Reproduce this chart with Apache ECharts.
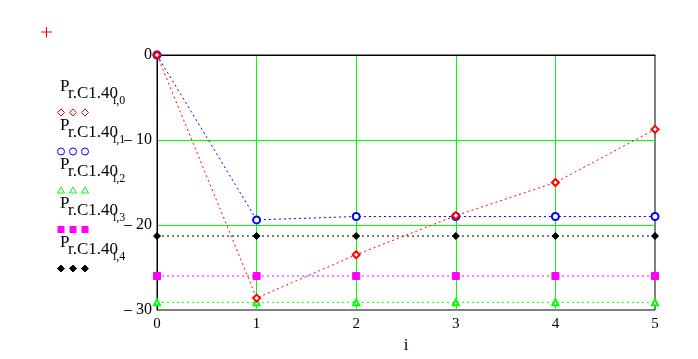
<!DOCTYPE html>
<html><head><meta charset="utf-8">
<script src="https://cdn.jsdelivr.net/npm/echarts@6/dist/echarts.min.js"></script>
<style>html,body{margin:0;padding:0;background:#fff}#c{width:698px;height:359px}</style>
</head><body><div id="c"></div>
<script>
var xVals = [0, 1, 2, 3, 4, 5];
var s0 = [0, -28.6, -23.5, -18.9, -15.0, -8.75];
var s1 = [0, -19.4, -19.0, -19.0, -19.0, -19.0];
var s2 = [-29.1, -29.1, -29.1, -29.1, -29.1, -29.1];
var s3 = [-26.0, -26.0, -26.0, -26.0, -26.0, -26.0];
var s4 = [-21.3, -21.3, -21.3, -21.3, -21.3, -21.3];
var seriesSubs = ['i,0', 'i,1', 'i,2', 'i,3', 'i,4'];

var colors = ['#ff0000', '#0000ff', '#00ff00', '#ff00ff', '#000000'];
var symbols = ['emptyDiamond', 'emptyCircle', 'emptyTriangle', 'rect', 'diamond'];
var sizes = [7, 7, 6, 7, 7];
var all = [s0, s1, s2, s3, s4];
var font = '"Liberation Serif", "DejaVu Serif", serif';

function pairs(arr) { return xVals.map(function (x, i) { return [x, arr[i]]; }); }

var series = all.map(function (arr, k) {
  return {
    type: 'line', data: pairs(arr), symbol: symbols[k], symbolSize: sizes[k],
    showAllSymbol: true, clip: false,
    lineStyle: { color: colors[k], width: 1, type: [2, 3] },
    itemStyle: { color: colors[k], borderColor: colors[k], borderWidth: 1 },
    z: 10 - k
  };
});

var graphics = [
  { type: 'line', shape: { x1: 41, y1: 32, x2: 52, y2: 32 }, style: { stroke: '#ff0000', lineWidth: 1 } },
  { type: 'line', shape: { x1: 46.5, y1: 27, x2: 46.5, y2: 37.5 }, style: { stroke: '#ff0000', lineWidth: 1 } }
];
for (var k = 0; k < 5; k++) {
  var y0 = 78 + 39 * k;
  graphics.push({ type: 'text', left: 60, top: y0, style: { text: 'P', font: '17px ' + font, fill: '#000' } });
  graphics.push({ type: 'text', left: 68, top: y0 + 7, style: { text: 'r.C1.40', font: '17px ' + font, fill: '#000' } });
  graphics.push({ type: 'text', left: 113, top: y0 + 17, style: { text: seriesSubs[k], font: '12px ' + font, fill: '#000' } });
  for (var j = 0; j < 3; j++) {
    var cx = 61 + 12 * j, cy = 112.5 + 39 * k, c = colors[k], el;
    if (k === 0 || k === 4) {
      el = { type: 'polygon', shape: { points: [[cx, cy - 3.5], [cx + 3.5, cy], [cx, cy + 3.5], [cx - 3.5, cy]] },
        style: { fill: k === 4 ? c : '#fff', stroke: c, lineWidth: 1 } };
    } else if (k === 1) {
      el = { type: 'circle', shape: { cx: cx, cy: cy, r: 3.5 }, style: { fill: '#fff', stroke: c, lineWidth: 1 } };
    } else if (k === 2) {
      el = { type: 'polygon', shape: { points: [[cx, cy - 3.5], [cx + 3.5, cy + 2.5], [cx - 3.5, cy + 2.5]] },
        style: { fill: '#fff', stroke: c, lineWidth: 1 } };
    } else {
      el = { type: 'rect', shape: { x: cx - 3.5, y: cy - 3.5, width: 7, height: 7 }, style: { fill: c } };
    }
    graphics.push(el);
  }
}

var chart = echarts.init(document.getElementById('c'), null, { renderer: 'canvas' });
chart.setOption({
  animation: false,
  backgroundColor: '#fff',
  grid: { left: 157, top: 55, right: 43, bottom: 49, show: true, borderColor: '#000', borderWidth: 1, backgroundColor: 'transparent' },
  xAxis: {
    type: 'value', min: 0, max: 5, interval: 1, name: 'i', nameLocation: 'middle', nameGap: 24,
    nameTextStyle: { fontFamily: font, fontSize: 17, color: '#000' },
    axisLine: { show: true, lineStyle: { color: '#000', width: 1 } },
    axisTick: { show: false },
    axisLabel: { fontFamily: font, fontSize: 15, color: '#000', margin: 7 },
    splitLine: { show: true, showMinLine: false, showMaxLine: false, lineStyle: { color: '#00ff00', width: 1 } }
  },
  yAxis: {
    type: 'value', min: -30, max: 0, interval: 10,
    axisLine: { show: true, lineStyle: { color: '#000', width: 1 } },
    axisTick: { show: false },
    axisLabel: { fontFamily: font, fontSize: 16, color: '#000', margin: 5,
      formatter: function (v) { return v < 0 ? '\u2013 ' + Math.abs(v) : String(v); } },
    splitLine: { show: true, showMinLine: false, showMaxLine: false, lineStyle: { color: '#00ff00', width: 1 } }
  },
  series: series,
  graphic: graphics
});
</script></body></html>
